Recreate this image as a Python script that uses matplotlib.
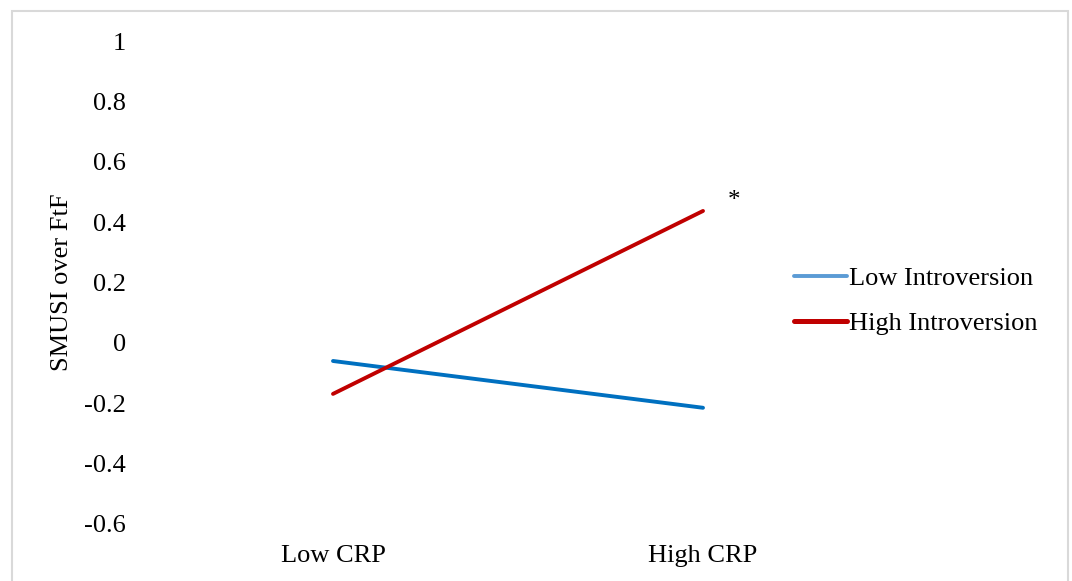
import matplotlib.pyplot as plt
from matplotlib.lines import Line2D
from matplotlib.patches import Rectangle

plt.rcParams['font.family'] = ['Liberation Serif', 'DejaVu Serif']

# data
categories = ["Low CRP", "High CRP"]
low_intro = [-0.06, -0.215]
high_intro = [-0.169, 0.437]
series_names = ["Low Introversion", "High Introversion"]
yticks = [-0.6, -0.4, -0.2, 0, 0.2, 0.4, 0.6, 0.8, 1]
ytick_labels = ["-0.6", "-0.4", "-0.2", "0", "0.2", "0.4", "0.6", "0.8", "1"]

fig = plt.figure(figsize=(10.72, 5.81), dpi=100)
ax = fig.add_axes([148/1072, 1-524/581, 740/1072, 483/581])

x = [0.5, 1.5]
ax.plot(x, low_intro, color="#0070C0", linewidth=2.8, solid_capstyle="round")
ax.plot(x, high_intro, color="#C00000", linewidth=2.8, solid_capstyle="round")

# significance mark next to the high CRP point
ax.annotate("*", xy=(x[1], high_intro[1]), xytext=(22, 7), textcoords="offset points",
            fontsize=18, ha="center", va="center")

ax.set_xlim(0, 2)
ax.set_ylim(-0.6, 1)
ax.set_xticks(x)
ax.set_xticklabels(categories)
ax.set_yticks(yticks)
ax.set_yticklabels(ytick_labels)
ax.tick_params(length=0, labelsize=19, colors="black")
ax.tick_params(axis="y", pad=16)
ax.tick_params(axis="x", pad=15)
for s in ax.spines.values():
    s.set_visible(False)
ax.set_ylabel("SMUSI over FtF", fontsize=19, labelpad=8)

handles = [Line2D([], [], color="#5B9BD5", linewidth=2.8, solid_capstyle="round"),
           Line2D([], [], color="#C00000", linewidth=3.6, solid_capstyle="round")]
fig.legend(handles, series_names, loc="center left", bbox_to_anchor=(770/1072, 1-301/581),
           frameon=False, fontsize=19, handlelength=2.0, handletextpad=0.1, labelspacing=0.82)

# light border around the chart area
fig.patches.append(Rectangle((12/1072, -0.05), 1056/1072, 1.05 - 11/581, transform=fig.transFigure,
                             fill=False, edgecolor="#D9D9D9", linewidth=1.5))

fig.savefig("out.png", dpi=100)
